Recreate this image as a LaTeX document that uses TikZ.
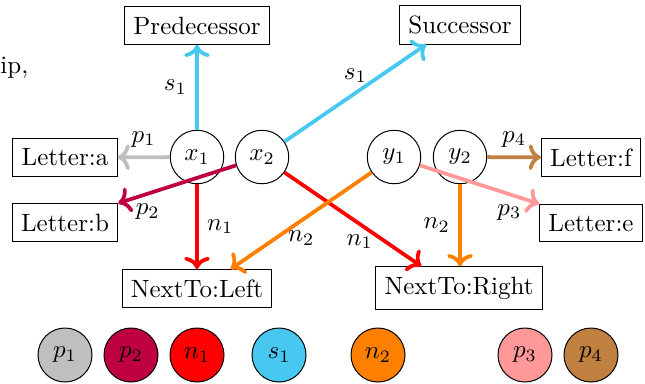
\documentclass[tikz,border=0pt]{standalone}
\usepackage{xcolor}
\usetikzlibrary{arrows.meta,positioning}
\definecolor{skyblue}{RGB}{70,200,240}
\definecolor{salmonpink}{RGB}{255,153,153}

\begin{document}
\begin{tikzpicture}[x=0.4pt, y=0.4pt, >={To}, var/.style={draw, circle, minimum size=21.4pt, inner sep=0pt}, valbox/.style={draw, rectangle, inner xsep=3.5pt, inner ysep=4pt}, key/.style={draw, circle, minimum size=21.6pt, inner sep=0pt}, rel/.style={->, line width=1.5pt, every node/.style={text=black}}]
\useasboundingbox (0,0) rectangle (645,383);
\node[anchor=base west, inner sep=0pt] (page) at (0,310) {ip,};
% variables
\node[var] (x1) at (197,226) {$x_1$};
\node[var] (x2) at (262,226) {$x_2$};
\node[var] (y1) at (394,226) {$y_1$};
\node[var] (y2) at (460,226) {$y_2$};
% values
\node[valbox] (pred) at (197,357.5) {Predecessor};
\node[valbox] (succ) at (460,358) {Successor};
\node[valbox] (la) at (65,225.5) {Letter:a};
\node[valbox] (lb) at (65,160.5) {Letter:b};
\node[valbox] (lf) at (591,225.5) {Letter:f};
\node[valbox] (le) at (591,160) {Letter:e};
\node[valbox] (left) at (197,94.5) {NextTo:Left};
\node[valbox] (right) at (459,95) {NextTo:Right};
% relations
\draw[rel, skyblue] (x1) -- node[left] {$s_1$} (pred);
\draw[rel, skyblue] (x2) -- node[above] {$s_1$} (succ.210);
\draw[rel, lightgray] (x1) -- node[above] {$p_1$} (la);
\draw[rel, purple] (x2) -- node[pos=.75, below] {$p_2$} (lb.north east);
\draw[rel, red] (x1) -- node[right] {$n_1$} (left);
\draw[rel, red] (x2) -- node[pos=.55, below] {$n_1$} (right.150);
\draw[rel, orange] (y1) -- node[below] {$n_2$} (left.30);
\draw[rel, orange] (y2) -- node[left] {$n_2$} (right.north -| y2);
\draw[rel, brown] (y2) -- node[above] {$p_4$} (lf);
\draw[rel, salmonpink] (y1) -- node[pos=.75, below] {$p_3$} (le.north west);
% legend
\node[key, fill=lightgray] (kp1) at (65,28) {$p_1$};
\node[key, fill=purple] (kp2) at (131,28) {$p_2$};
\node[key, fill=red] (kn1) at (197,28) {$n_1$};
\node[key, fill=skyblue] (ks1) at (279,28) {$s_1$};
\node[key, fill=orange] (kn2) at (378,28) {$n_2$};
\node[key, fill=salmonpink] (kp3) at (525,28) {$p_3$};
\node[key, fill=brown] (kp4) at (591,28) {$p_4$};
\end{tikzpicture}
\end{document}
